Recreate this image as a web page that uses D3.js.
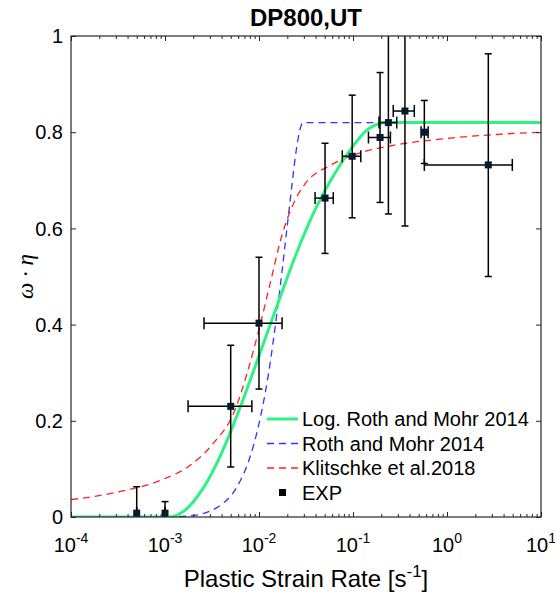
<!DOCTYPE html>
<html>
<head>
<meta charset="utf-8">
<script src="https://cdn.jsdelivr.net/npm/d3@7/dist/d3.min.js"></script>
<style>
  html, body { margin: 0; padding: 0; background: #fff; }
  svg { display: block; }
  text { font-family: "Liberation Sans", Arial, Helvetica, sans-serif; fill: #000; }
</style>
</head>
<body>
<div id="chart"></div>
<script>
// ---------------- data ----------------
const titleText = "DP800,UT";
const xTickValues = [1e-4, 1e-3, 1e-2, 1e-1, 1, 10];
const xTickExponents = ["-4", "-3", "-2", "-1", "0", "1"];
const yTickValues = [0, 0.2, 0.4, 0.6, 0.8, 1];
const yTickLabels = ["0", "0.2", "0.4", "0.6", "0.8", "1"];

// Log. Roth and Mohr 2014 (green)
const logRothX = [1e-4, 1e-3, 1.13e-3, 1.58e-3, 2.51e-3, 3.98e-3, 6.31e-3, 1e-2, 1.58e-2, 2.51e-2, 3.98e-2, 6.31e-2, 0.1, 0.141, 0.178, 0.224, 1, 10];
const logRothY = [0, 0, 0, 0.012, 0.058, 0.132, 0.228, 0.335, 0.443, 0.549, 0.640, 0.712, 0.771, 0.805, 0.816, 0.82, 0.82, 0.82];

// Roth and Mohr 2014 (blue dashed)
const rothX = [1e-4, 1e-3, 1.78e-3, 3.16e-3, 3.98e-3, 5.01e-3, 6.31e-3, 7.94e-3, 1e-2, 1.26e-2, 1.58e-2, 2.0e-2, 2.24e-2, 2.51e-2, 2.82e-2, 2.95e-2, 1, 10];
const rothY = [0, 0, 0.002, 0.014, 0.026, 0.044, 0.075, 0.122, 0.194, 0.297, 0.436, 0.606, 0.69, 0.767, 0.815, 0.82, 0.82, 0.82];

// Klitschke et al.2018 (red dashed)
const klitX = [1e-4, 3.16e-4, 1e-3, 1.78e-3, 3.16e-3, 5.62e-3, 7.5e-3, 1e-2, 1.33e-2, 1.78e-2, 2.37e-2, 3.16e-2, 5.62e-2, 0.1, 0.316, 1, 3.16, 10];
const klitY = [0.036, 0.052, 0.080, 0.105, 0.150, 0.225, 0.30, 0.39, 0.49, 0.59, 0.655, 0.695, 0.73, 0.752, 0.775, 0.787, 0.795, 0.80];

// EXP
const expX    = [5e-4, 1e-3, 5e-3, 1e-2, 0.0504, 0.098, 0.194, 0.238, 0.357, 0.574, 2.75];
const expY    = [0.008, 0.008, 0.23, 0.403, 0.663, 0.75, 0.789, 0.82, 0.844, 0.80, 0.732];
const expYLo  = [-0.047, -0.016, 0.104, 0.266, 0.548, 0.622, 0.654, 0.63, 0.605, 0.735, 0.50];
const expYHi  = [0.063, 0.032, 0.357, 0.54, 0.777, 0.877, 0.924, 1.01, 1.083, 0.866, 0.963];
const expXLo  = [5e-4, 1e-3, 1.76e-3, 2.6e-3, 0.0395, 0.0769, 0.146, 0.189, 0.268, 0.53, 0.574];
const expXHi  = [5e-4, 1e-3, 8.4e-3, 1.76e-2, 0.0617, 0.121, 0.25, 0.292, 0.449, 0.63, 4.95];

const legendLabels = ["Log. Roth and Mohr 2014", "Roth and Mohr 2014", "Klitschke et al.2018", "EXP"];
const xLabelMain = "Plastic Strain Rate [s";
const xLabelSup = "-1";
const yLabelText = "ω · η";

// ---------------- layout ----------------
const W = 555, H = 598;
const L = 71, R = 541, T = 36, B = 517;
const colGreen = "#2ef283", colBlue = "#3333ff", colRed = "#ff2020", axisCol = "#262626";

const svg = d3.select("#chart").append("svg").attr("width", W).attr("height", H);

const x = d3.scaleLog().domain([1e-4, 10]).range([L, R]);
const y = d3.scaleLinear().domain([0, 1]).range([B, T]);

svg.append("defs").append("clipPath").attr("id", "clip")
  .append("rect").attr("x", L).attr("y", T).attr("width", R - L).attr("height", B - T);

const plot = svg.append("g").attr("clip-path", "url(#clip)");

const line = d3.line().x(d => x(d[0])).y(d => y(d[1])).curve(d3.curveMonotoneX);

plot.append("path").datum(d3.zip(rothX, rothY)).attr("d", line)
  .attr("fill", "none").attr("stroke", colBlue).attr("stroke-width", 1.3).attr("stroke-dasharray", "7,5");
plot.append("path").datum(d3.zip(klitX, klitY)).attr("d", line)
  .attr("fill", "none").attr("stroke", colRed).attr("stroke-width", 1.3).attr("stroke-dasharray", "7,5");
plot.append("path").datum(d3.zip(logRothX, logRothY)).attr("d", line)
  .attr("fill", "none").attr("stroke", colGreen).attr("stroke-width", 3);

// error bars
const eb = plot.append("g").attr("stroke", "#000").attr("stroke-width", 1.5).attr("fill", "none");
const vcap = 3.5, hcap = 6;
expX.forEach((xv, i) => {
  const px = x(xv), py = y(expY[i]);
  const yl = y(expYLo[i]), yh = y(expYHi[i]);
  eb.append("line").attr("x1", px).attr("x2", px).attr("y1", yl).attr("y2", yh);
  eb.append("line").attr("x1", px - vcap).attr("x2", px + vcap).attr("y1", yl).attr("y2", yl);
  eb.append("line").attr("x1", px - vcap).attr("x2", px + vcap).attr("y1", yh).attr("y2", yh);
  const xl = x(expXLo[i]), xh = x(expXHi[i]);
  eb.append("line").attr("x1", xl).attr("x2", xh).attr("y1", py).attr("y2", py);
  eb.append("line").attr("x1", xl).attr("x2", xl).attr("y1", py - hcap).attr("y2", py + hcap);
  eb.append("line").attr("x1", xh).attr("x2", xh).attr("y1", py - hcap).attr("y2", py + hcap);
});
plot.append("g").selectAll("rect").data(d3.zip(expX, expY)).join("rect")
  .attr("x", d => x(d[0]) - 3.5).attr("y", d => y(d[1]) - 3.5)
  .attr("width", 7).attr("height", 7).attr("fill", "#071a2c");

// ---------------- axes ----------------
const minorX = [];
for (let e = -4; e < 1; e++) for (let k = 2; k <= 9; k++) minorX.push(k * Math.pow(10, e));

function styleAxis(g) {
  g.select(".domain").remove();
  g.selectAll(".tick line").attr("stroke", axisCol).attr("stroke-width", 1);
}
svg.append("g").attr("transform", `translate(0,${B})`)
  .call(d3.axisBottom(x).tickValues(xTickValues).tickSizeInner(-5).tickSizeOuter(0).tickFormat(""))
  .call(styleAxis);
svg.append("g").attr("transform", `translate(0,${B})`)
  .call(d3.axisBottom(x).tickValues(minorX).tickSizeInner(-3).tickSizeOuter(0).tickFormat(""))
  .call(styleAxis);
svg.append("g").attr("transform", `translate(0,${T})`)
  .call(d3.axisTop(x).tickValues(xTickValues).tickSizeInner(-5).tickSizeOuter(0).tickFormat(""))
  .call(styleAxis);
svg.append("g").attr("transform", `translate(0,${T})`)
  .call(d3.axisTop(x).tickValues(minorX).tickSizeInner(-3).tickSizeOuter(0).tickFormat(""))
  .call(styleAxis);
svg.append("g").attr("transform", `translate(${L},0)`)
  .call(d3.axisLeft(y).tickValues(yTickValues).tickSizeInner(-5).tickSizeOuter(0).tickFormat(""))
  .call(styleAxis);
svg.append("g").attr("transform", `translate(${R},0)`)
  .call(d3.axisRight(y).tickValues(yTickValues).tickSizeInner(-5).tickSizeOuter(0).tickFormat(""))
  .call(styleAxis);

svg.append("rect").attr("x", L).attr("y", T).attr("width", R - L).attr("height", B - T)
  .attr("fill", "none").attr("stroke", axisCol).attr("stroke-width", 1.2);

// y tick labels
svg.append("g").selectAll("text").data(yTickValues).join("text")
  .attr("x", L - 8).attr("y", d => y(d)).attr("dy", "0.36em")
  .attr("text-anchor", "end").attr("font-size", 20).attr("fill", "#262626")
  .text((d, i) => yTickLabels[i]);

// x tick labels
xTickValues.forEach((v, i) => {
  const t = svg.append("text").attr("x", x(v)).attr("y", 552)
    .attr("text-anchor", "middle").attr("font-size", 20).attr("fill", "#262626");
  t.append("tspan").text("10");
  t.append("tspan").attr("dy", -9).attr("font-size", 14).text(xTickExponents[i]);
});

// axis labels
const xl = svg.append("text").attr("x", (L + R) / 2).attr("y", 587)
  .attr("text-anchor", "middle").attr("font-size", 24).attr("fill", "#262626");
xl.append("tspan").text(xLabelMain);
xl.append("tspan").attr("dy", -10).attr("font-size", 17).text(xLabelSup);
xl.append("tspan").attr("dy", 10).text("]");

svg.append("text")
  .attr("transform", `translate(33,${(T + B) / 2}) rotate(-90)`)
  .attr("text-anchor", "middle").attr("font-size", 23).attr("font-style", "italic")
  .style("font-family", "'Liberation Serif', 'Times New Roman', serif").attr("fill", "#262626")
  .text(yLabelText);

// title
svg.append("text").attr("x", (L + R) / 2).attr("y", 26).attr("text-anchor", "middle")
  .attr("font-size", 24).attr("font-weight", "bold").text(titleText);

// ---------------- legend ----------------
const legY0 = 419, legDy = 24.5, lx0 = 267, lx1 = 298, tx = 302;
const leg = svg.append("g");
const styles = [
  { c: colGreen, w: 3, dash: null },
  { c: colBlue, w: 1.3, dash: "7,5" },
  { c: colRed, w: 1.3, dash: "7,5" }
];
legendLabels.forEach((lab, i) => {
  const yy = legY0 + i * legDy;
  if (i < 3) {
    leg.append("line").attr("x1", lx0).attr("x2", lx1).attr("y1", yy).attr("y2", yy)
      .attr("stroke", styles[i].c).attr("stroke-width", styles[i].w)
      .attr("stroke-dasharray", styles[i].dash);
  } else {
    leg.append("rect").attr("x", (lx0 + lx1) / 2 - 3.5).attr("y", yy - 3.5)
      .attr("width", 7).attr("height", 7).attr("fill", "#000");
  }
  leg.append("text").attr("x", tx).attr("y", yy).attr("dy", "0.36em")
    .attr("font-size", 20).text(lab);
});
</script>
</body>
</html>
